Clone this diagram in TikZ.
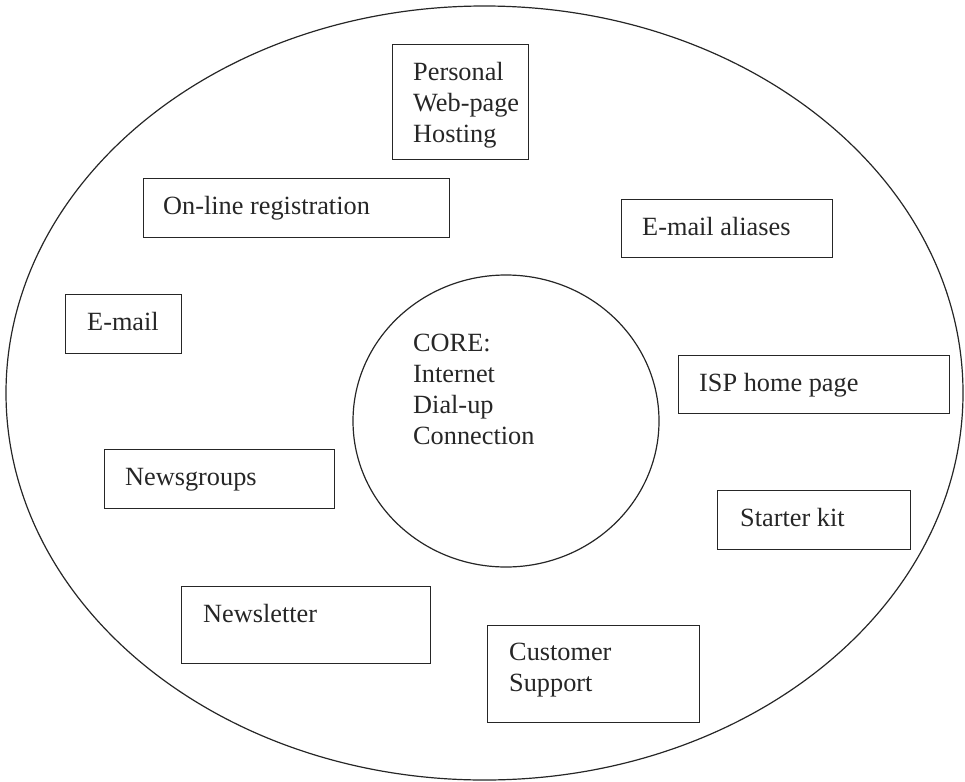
\documentclass[tikz,border=0pt]{standalone}
\usepackage{fontspec}
\setmainfont{Liberation Serif}
\usetikzlibrary{shapes.geometric}

\begin{document}
\begin{tikzpicture}[x=1pt, y=-1pt]
      \tikzstyle{box}=[draw=black!85, line width=1.2pt, anchor=north west,
                       inner sep=0pt]
      \tikzstyle{txt}=[anchor=north west, align=left, inner sep=0pt,
                       text=black!85, font=\fontsize{26.3}{31}\selectfont]
      \useasboundingbox (0,0) rectangle (965,781);
      % outer ring and core
      \node[draw=black!85, line width=1.2pt, ellipse, minimum width=957pt,
            minimum height=774pt] (ring) at (484.5,393) {};
      \node[draw=black!85, line width=1.2pt, ellipse, minimum width=306pt,
            minimum height=292pt] (core) at (506,421) {};
      \node[txt] (corelbl) at ([shift={(-93pt,87pt)}]core.center)
            {CORE:\\Internet\\Dial-up\\Connection};
      % service boxes
      \node[box, minimum width=136pt, minimum height=115pt] (host) at (392,44) {};
      \node[box, minimum width=306pt, minimum height=59pt]  (reg) at (143,178) {};
      \node[box, minimum width=211pt, minimum height=58pt]  (alias) at (621,199) {};
      \node[box, minimum width=116pt, minimum height=59pt]  (email) at (65,294) {};
      \node[box, minimum width=271pt, minimum height=58pt]  (isp) at (678,355) {};
      \node[box, minimum width=230pt, minimum height=59pt]  (news) at (104,449) {};
      \node[box, minimum width=193pt, minimum height=59pt]  (kit) at (717,490) {};
      \node[box, minimum width=249pt, minimum height=77pt]  (letter) at (181,586) {};
      \node[box, minimum width=212pt, minimum height=97pt]  (support) at (487,625) {};
      % labels, inset from each box corner
      \node[txt] (hostlbl) at ([shift={(21pt,-18pt)}]host.north west)
            {Personal\\Web-page\\Hosting};
      \node[txt] (reglbl) at ([shift={(20pt,-18pt)}]reg.north west) {On-line registration};
      \node[txt] (aliaslbl) at ([shift={(21pt,-18pt)}]alias.north west) {E-mail aliases};
      \node[txt] (emaillbl) at ([shift={(22pt,-18pt)}]email.north west) {E-mail};
      \node[txt] (isplbl) at ([shift={(21pt,-18pt)}]isp.north west) {ISP home page};
      \node[txt] (newslbl) at ([shift={(21pt,-19pt)}]news.north west) {Newsgroups};
      \node[txt] (kitlbl) at ([shift={(23pt,-18pt)}]kit.north west) {Starter kit};
      \node[txt] (letterlbl) at ([shift={(22pt,-18pt)}]letter.north west) {Newsletter};
      \node[txt] (supportlbl) at ([shift={(22pt,-18pt)}]support.north west)
            {Customer\\Support};
\end{tikzpicture}
\end{document}
